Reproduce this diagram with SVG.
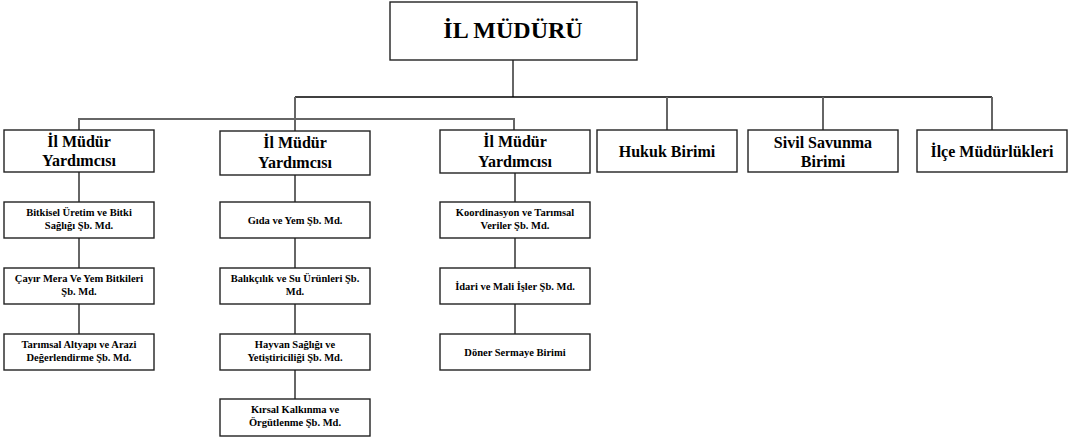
<svg xmlns="http://www.w3.org/2000/svg" width="1071" height="438" viewBox="0 0 1071 438">
<style>
.box{fill:#fff;stroke:#222;stroke-width:1.4}
.t{font-family:"Liberation Serif","Times New Roman",serif;font-weight:bold;fill:#000;text-anchor:middle}
.top{font-size:24px}
.mid{font-size:16px}
.sm{font-size:10.5px}
.ln{stroke:#666;stroke-width:2;fill:none}
.lb{stroke:#000;stroke-width:1.6;fill:none}
</style>
<rect width="1071" height="438" fill="#fff"/>
<g id="connectors">
<line class="ln" x1="513" y1="60" x2="513" y2="97"/>
<line class="lb" x1="295" y1="97" x2="992" y2="97"/>
<line class="ln" x1="667" y1="97" x2="667" y2="130"/>
<line class="ln" x1="823" y1="97" x2="823" y2="130"/>
<line class="ln" x1="992" y1="97" x2="992" y2="130"/>
<polyline class="ln" points="79,130 79,119 514,119 514,130"/>
<line class="ln" x1="295" y1="97" x2="295" y2="131"/>
<line class="ln" x1="79" y1="172" x2="79" y2="334"/>
<line class="ln" x1="295" y1="175" x2="295" y2="399"/>
<line class="ln" x1="515" y1="173" x2="515" y2="334"/>
</g>
<g id="il-muduru"><rect class="box" x="390" y="2" width="247" height="58"/><text class="t top" x="513" y="38">İL MÜDÜRÜ</text></g>
<g id="yardimci-1"><rect class="box" x="4" y="130" width="150" height="42"/><text class="t mid" x="79" y="147">İl Müdür</text><text class="t mid" x="79" y="166">Yardımcısı</text></g>
<g id="yardimci-2"><rect class="box" x="220" y="131" width="150" height="44"/><text class="t mid" x="295" y="148">İl Müdür</text><text class="t mid" x="295" y="168">Yardımcısı</text></g>
<g id="yardimci-3"><rect class="box" x="440" y="130" width="150" height="43"/><text class="t mid" x="515" y="147">İl Müdür</text><text class="t mid" x="515" y="167">Yardımcısı</text></g>
<g id="hukuk"><rect class="box" x="597" y="130" width="140" height="42"/><text class="t mid" x="667" y="157">Hukuk Birimi</text></g>
<g id="sivil"><rect class="box" x="748" y="130" width="150" height="42"/><text class="t mid" x="823" y="148">Sivil Savunma</text><text class="t mid" x="823" y="167">Birimi</text></g>
<g id="ilce"><rect class="box" x="917" y="130" width="150" height="42"/><text class="t mid" x="992" y="157">İlçe Müdürlükleri</text></g>
<g id="bitkisel"><rect class="box" x="4" y="202" width="150" height="36"/><text class="t sm" x="79" y="216">Bitkisel Üretim ve Bitki</text><text class="t sm" x="79" y="229">Sağlığı Şb. Md.</text></g>
<g id="cayir"><rect class="box" x="4" y="268" width="150" height="36"/><text class="t sm" x="79" y="282">Çayır Mera Ve Yem Bitkileri</text><text class="t sm" x="79" y="295">Şb. Md.</text></g>
<g id="tarimsal"><rect class="box" x="4" y="334" width="150" height="36"/><text class="t sm" x="79" y="348">Tarımsal Altyapı ve Arazi</text><text class="t sm" x="79" y="361">Değerlendirme Şb. Md.</text></g>
<g id="gida"><rect class="box" x="220" y="202" width="150" height="36"/><text class="t sm" x="295" y="224">Gıda ve Yem Şb. Md.</text></g>
<g id="balikcilik"><rect class="box" x="220" y="268" width="150" height="36"/><text class="t sm" x="295" y="282">Balıkçılık ve Su Ürünleri Şb.</text><text class="t sm" x="295" y="295">Md.</text></g>
<g id="hayvan"><rect class="box" x="220" y="334" width="150" height="36"/><text class="t sm" x="295" y="348">Hayvan Sağlığı ve</text><text class="t sm" x="295" y="361">Yetiştiriciliği Şb. Md.</text></g>
<g id="kirsal"><rect class="box" x="220" y="399" width="150" height="37"/><text class="t sm" x="295" y="413">Kırsal Kalkınma ve</text><text class="t sm" x="295" y="426">Örgütlenme Şb. Md.</text></g>
<g id="koordinasyon"><rect class="box" x="440" y="202" width="150" height="36"/><text class="t sm" x="515" y="216">Koordinasyon ve Tarımsal</text><text class="t sm" x="515" y="229">Veriler Şb. Md.</text></g>
<g id="idari"><rect class="box" x="440" y="268" width="150" height="36"/><text class="t sm" x="515" y="290">İdari ve Mali İşler Şb. Md.</text></g>
<g id="doner"><rect class="box" x="440" y="334" width="150" height="36"/><text class="t sm" x="515" y="356">Döner Sermaye Birimi</text></g>
</svg>
